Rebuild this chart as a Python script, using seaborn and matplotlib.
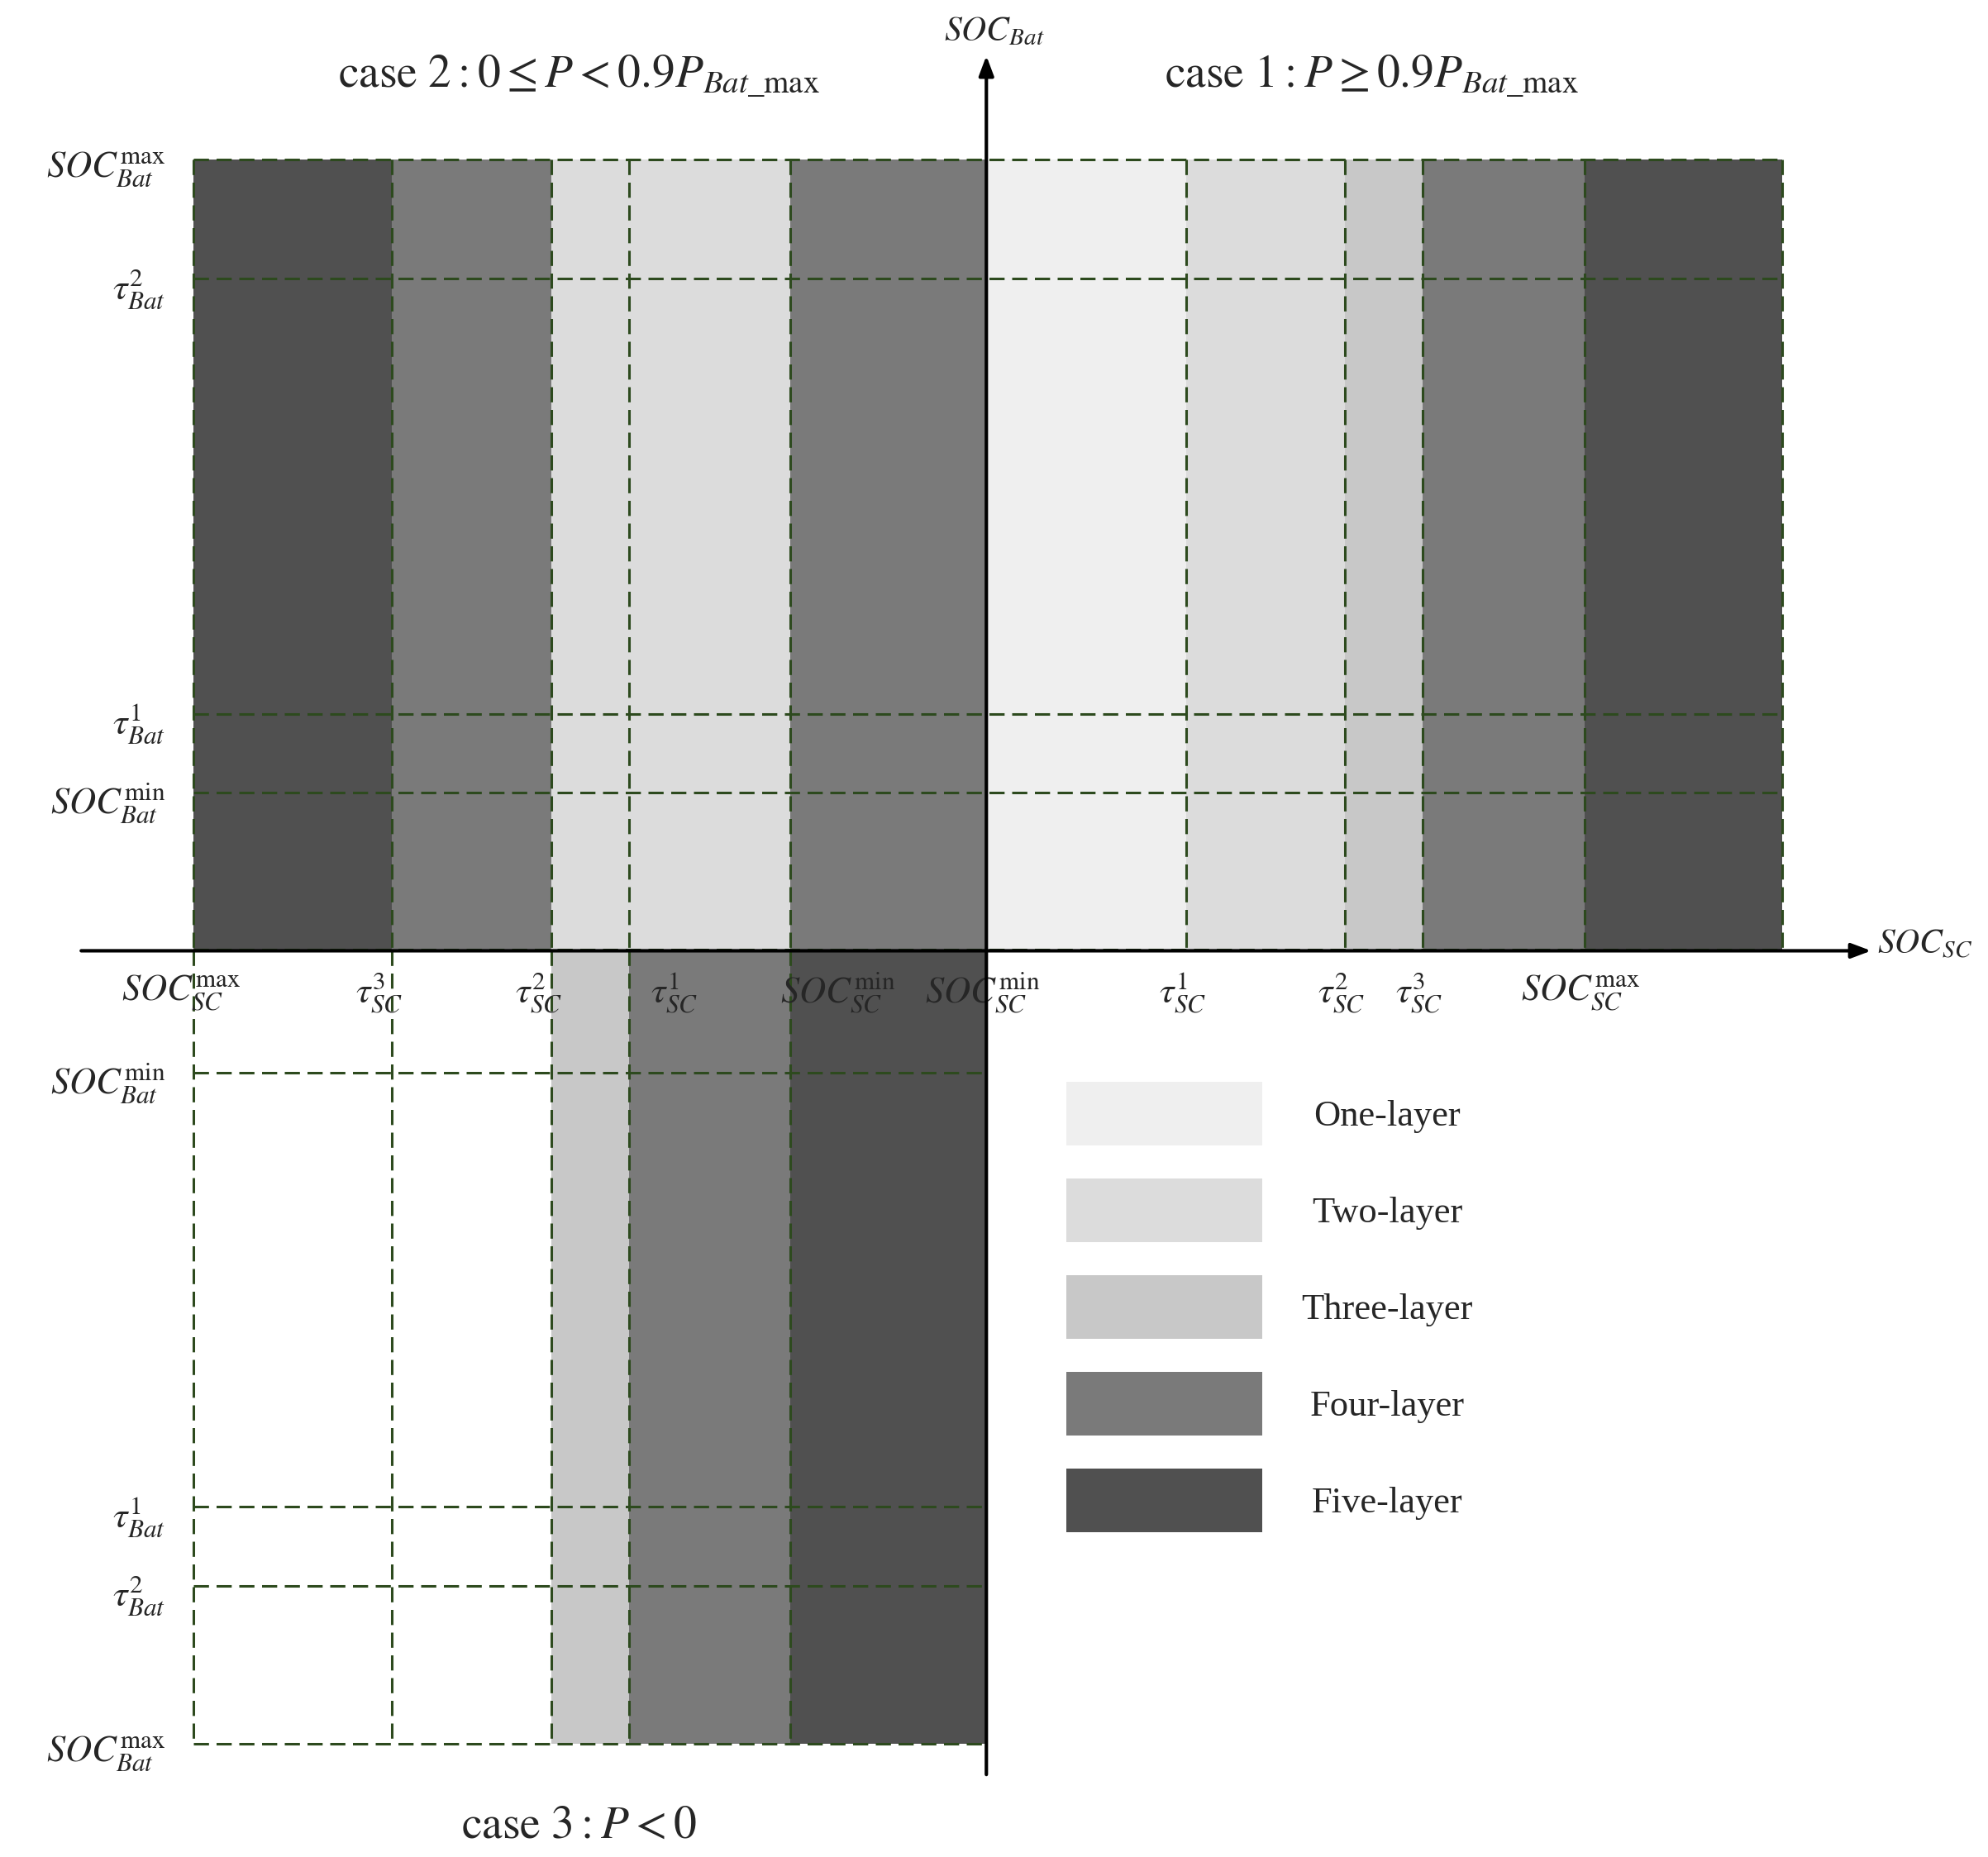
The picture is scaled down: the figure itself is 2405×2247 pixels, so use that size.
import seaborn as sns
import matplotlib.pyplot as plt
from matplotlib.patches import Rectangle

sns.set_theme(style="white")
plt.rcParams['font.family'] = ['Liberation Serif', 'DejaVu Serif']
plt.rcParams['mathtext.fontset'] = 'stix'

# layer colours
layer_names = ['One-layer', 'Two-layer', 'Three-layer', 'Four-layer', 'Five-layer']
layer_colors = ['#efefef', '#dcdcdc', '#c8c8c8', '#7a7a7a', '#505050']

# diagram coordinates (origin of the SOC axes at x0, y0)
x0, y0 = 775, 747
top_y, bot_y = 125, 1370

# case 1 (right, top)
case1_edges = [775, 932, 1057, 1118, 1245, 1400]
case1_layers = [0, 1, 2, 3, 4]
# case 2 (left, top)
case2_edges = [152, 308, 433, 494, 621, 775]
case2_layers = [4, 3, 1, 1, 3]
# case 3 (left, bottom), None = no layer
case3_edges = [152, 308, 433, 494, 621, 775]
case3_layers = [None, None, 2, 3, 4]

top_h_lines = [125, 219, 561, 623]
top_h_labels = [r'$SOC_{Bat}^{\max}$', r'$\tau_{Bat}^{2}$', r'$\tau_{Bat}^{1}$', r'$SOC_{Bat}^{\min}$']
bot_h_lines = [843, 1184, 1246, 1370]
bot_h_labels = [r'$SOC_{Bat}^{\min}$', r'$\tau_{Bat}^{1}$', r'$\tau_{Bat}^{2}$', r'$SOC_{Bat}^{\max}$']
left_x_labels = [r'$SOC_{SC}^{\max}$', r'$\tau_{SC}^{3}$', r'$\tau_{SC}^{2}$', r'$\tau_{SC}^{1}$', r'$SOC_{SC}^{\min}$']
right_x_labels = [r'$SOC_{SC}^{\min}$', r'$\tau_{SC}^{1}$', r'$\tau_{SC}^{2}$', r'$\tau_{SC}^{3}$', r'$SOC_{SC}^{\max}$']

fig = plt.figure(figsize=(24.05, 22.47), dpi=100)
ax = fig.add_axes([0, 0, 1, 1])
ax.set_xlim(0, 1562)
ax.set_ylim(1459, 0)
ax.axis('off')

def bands(edges, layers, ya, yb):
    for i, lay in enumerate(layers):
        if lay is None:
            continue
        ax.add_patch(Rectangle((edges[i], ya), edges[i + 1] - edges[i], yb - ya,
                               color=layer_colors[lay], lw=0, zorder=1))

bands(case1_edges, case1_layers, top_y, y0)
bands(case2_edges, case2_layers, top_y, y0)
bands(case3_edges, case3_layers, y0, bot_y)

dash = dict(color='#2d4a1e', lw=2.2, ls=(0, (6, 3)), zorder=2)
for y in top_h_lines:
    ax.plot([152, 1400], [y, y], **dash)
ax.plot([152, 1400], [y0 - 1, y0 - 1], **dash)
for x in case2_edges[:-1] + case1_edges[1:]:
    ax.plot([x, x], [top_y, y0], **dash)
for y in bot_h_lines:
    ax.plot([152, 775], [y, y], **dash)
for x in case3_edges[:-1]:
    ax.plot([x, x], [y0, bot_y], **dash)

# axes arrows
ax.annotate('', xy=(1472, y0), xytext=(62, y0),
            arrowprops=dict(arrowstyle='-|>,head_length=1.2,head_width=0.45', color='black', lw=3), zorder=5)
ax.annotate('', xy=(x0, 42), xytext=(x0, 1396),
            arrowprops=dict(arrowstyle='-|>,head_length=1.2,head_width=0.45', color='black', lw=3), zorder=5)
ax.text(1475, y0 - 5, r'$SOC_{SC}$', fontsize=30, ha='left', va='center')
ax.text(742, 25, r'$SOC_{Bat}$', fontsize=30, ha='left', va='center')

fs = 32
for y, lab in zip(top_h_lines, top_h_labels):
    ax.text(130, y + 8, lab, fontsize=fs, ha='right', va='center')
for y, lab in zip(bot_h_lines, bot_h_labels):
    ax.text(130, y + 8, lab, fontsize=fs, ha='right', va='center')
for x, lab in zip(case2_edges[:-1], left_x_labels):
    xx = x if x != 621 else 668
    ax.text(xx - 10 if x != 494 else x + 36, 780, lab, fontsize=fs, ha='center', va='center')
for x, lab in zip(case1_edges[:-1] + [1400], right_x_labels):
    ax.text(x - 3, 780, lab, fontsize=fs, ha='center', va='center')

ax.text(455, 60, r'$\mathrm{case\ 2}: 0 \leq P < 0.9P_{Bat\_\max}$', fontsize=40, ha='center', va='center')
ax.text(1078, 60, r'$\mathrm{case\ 1}: P \geq 0.9P_{Bat\_\max}$', fontsize=40, ha='center', va='center')
ax.text(455, 1435, r'$\mathrm{case\ 3}: P < 0$', fontsize=40, ha='center', va='center')

# legend
for i, (name, col) in enumerate(zip(layer_names, layer_colors)):
    yy = 850 + 76 * i
    ax.add_patch(Rectangle((838, yy), 154, 50, color=col, lw=0, zorder=3))
    ax.text(1090, yy + 27, name, fontsize=32, ha='center', va='center')

fig.savefig('out.png', dpi=100)
